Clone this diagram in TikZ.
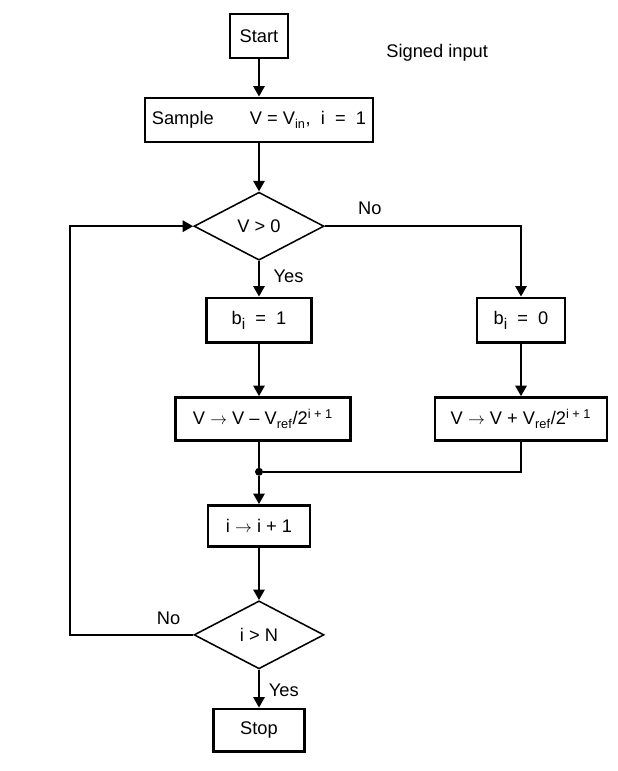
\documentclass[tikz,border=0pt]{standalone}
\usepackage{fontspec}
\setmainfont{Liberation Sans}
\usetikzlibrary{shapes,arrows.meta,positioning,calc}

\newcommand{\goesto}{\ensuremath{\rightarrow}}
\newcommand{\lowi}{\raisebox{-0.55ex}{\fontsize{11pt}{11pt}\selectfont i}}

\begin{document}
\begin{tikzpicture}[
    node distance=1cm,
    every node/.style={font=\fontsize{13pt}{15pt}\selectfont},
    stepbox/.style={draw, line width=2pt, minimum height=1.1cm, inner sep=0.15cm},
    test/.style={diamond, draw, line width=1.1pt, minimum width=3.25cm, minimum height=1.7cm, inner sep=0pt},
    flow/.style={line width=1.6pt},
    dot/.style={circle, fill, inner sep=0pt, minimum size=0.2cm},
    >={Triangle[length=7.5pt,width=8pt]}
]
\useasboundingbox (0,0) rectangle (15.45,-19.275);

% main column
\node[stepbox, minimum width=1.45cm] (start) at (6.475,-0.9) {Start};
\node[right=2.3cm of start, yshift=-0.42cm] (signed) {Signed input};
\node[stepbox, minimum width=5.7cm, below=0.93cm of start] (sample) {Sample\hspace{0.9cm}V = V\textsubscript{in},\ \ i\ \ =\ \ 1};
\node[test, below=1.2cm of sample] (vpos) {V > 0};
\node[stepbox, minimum width=2.62cm, minimum height=1.12cm, below=0.89cm of vpos] (bone) {b\lowi\ \ =\ \ 1};
\node[stepbox, minimum width=4.37cm, minimum height=1.07cm, below=1.3cm of bone, xshift=0.1cm] (subref) {V \goesto\ V – V\textsubscript{ref}/2\textsuperscript{i + 1}};

% right branch
\node[stepbox, minimum width=2.2cm, minimum height=1.12cm, right=4.07cm of bone] (bzero) {b\lowi\ \ =\ \ 0};
\node[stepbox, minimum width=4.3cm, minimum height=1.07cm, below=1.3cm of bzero] (addref) {V \goesto\ V + V\textsubscript{ref}/2\textsuperscript{i + 1}};

% merge and loop
\node[dot] (join) at ($(bone |- subref.south)+(0,-0.75)$) {};
\node[stepbox, minimum width=2.55cm, minimum height=1.03cm, below=0.7cm of join] (inc) {i \goesto\ i + 1};
\node[test, below=1.3cm of inc] (ibig) {i > N};
\node[stepbox, minimum width=2.27cm, minimum height=1.07cm, below=0.95cm of ibig] (stop) {Stop};
\coordinate (loop) at ($(ibig.west)+(-3.08,0)$);

% connectors
\draw[flow, ->] (start) -- (sample);
\draw[flow, ->] (sample) -- (vpos);
\draw[flow, ->] (vpos) -- node[right, pos=0.42, xshift=0.22cm] {Yes} (bone);
\draw[flow, ->] (vpos.east) -- node[above, pos=0.23, yshift=0.15cm] {No} (vpos.east -| bzero) -- (bzero);
\draw[flow, ->] (bone) -- (bone |- subref.north);
\draw[flow, ->] (bzero) -- (addref);
\draw[flow] (bone |- subref.south) -- (join);
\draw[flow] (addref.south) |- (join);
\draw[flow, ->] (join) -- (inc);
\draw[flow, ->] (inc) -- (ibig);
\draw[flow, ->] (ibig) -- node[right, pos=0.55, xshift=0.1cm] {Yes} (stop);
\draw[flow, ->] (ibig.west) -- node[above, pos=0.2, yshift=0.12cm] {No} (loop) |- (vpos.west);
\end{tikzpicture}
\end{document}
